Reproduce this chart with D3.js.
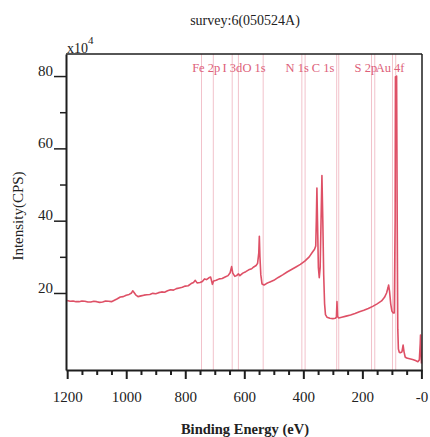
<!DOCTYPE html>
<html>
<head>
<meta charset="utf-8">
<script src="https://cdn.jsdelivr.net/npm/d3@7"></script>
<style>
  html, body { margin: 0; padding: 0; background: #fff; }
  svg { display: block; }
  text { font-family: "Liberation Serif", "Times New Roman", serif; }
</style>
</head>
<body>
<svg id="chart" width="430" height="437"></svg>
<script>
// XPS survey spectrum: binding energy (eV) and intensity (x10^4 CPS)
const bindingEnergy = [
  1200, 1190, 1180, 1170, 1160, 1150, 1140, 1130, 1120, 1110, 1100, 1090, 1080, 1070, 1060, 1050,
  1040, 1030, 1020, 1010, 1000, 990, 982, 978, 974, 968, 960, 950, 940, 930, 920, 910,
  900, 890, 880, 870, 860, 850, 840, 830, 820, 810, 800, 790, 780, 772, 766, 760,
  750, 742, 735, 728, 720, 714, 708, 704, 695, 685, 675, 665, 655, 648, 643, 639,
  632, 626, 620, 615, 605, 595, 585, 575, 568, 560, 555, 551, 549, 547, 544, 540,
  533, 525, 515, 500, 485, 470, 455, 440, 425, 410, 395, 380, 370, 362, 358, 356,
  354, 352, 349, 346, 343, 340, 337, 334, 331, 328, 325, 320, 310, 300, 292, 288,
  286, 284, 280, 270, 255, 240, 225, 210, 195, 180, 165, 150, 135, 125, 118, 113,
  111, 108, 104, 100, 96, 92, 89, 88, 86, 85, 84, 82, 80, 78, 75, 72,
  66, 62, 59, 55, 50, 40, 30, 20, 12, 7, 4, 3, 1.5, 0
];
const intensity = [
  17.9, 17.7, 17.8, 17.6, 17.6, 17.8, 17.7, 17.5, 17.5, 17.7, 17.6, 17.4, 17.5, 17.8, 17.7, 17.6,
  18.0, 18.4, 18.9, 19.0, 19.4, 19.6, 20.0, 20.6, 20.2, 19.5, 19.0, 19.2, 19.4, 19.5, 19.6, 19.9,
  19.8, 20.1, 20.3, 20.2, 20.6, 20.9, 20.8, 21.2, 21.4, 21.6, 21.9, 22.0, 22.6, 22.9, 23.5, 22.8,
  22.9, 23.2, 23.9, 23.7, 24.2, 24.4, 22.4, 23.3, 23.5, 23.9, 24.0, 24.4, 24.8, 25.6, 27.3, 25.5,
  24.6, 24.8, 25.3, 24.8, 25.5, 25.9, 26.4, 26.7, 27.2, 27.6, 28.2, 31.0, 35.7, 30.0, 25.0, 22.5,
  22.2, 22.6, 23.0, 23.5, 24.3, 25.0, 25.8, 26.5, 27.2, 27.9, 28.8, 30.0, 31.2, 32.1, 33.0, 40.0,
  49.0, 40.0, 27.0, 24.2, 27.0, 40.0, 52.5, 40.0, 25.0, 17.0, 14.0, 13.3, 13.0, 12.9, 13.0, 13.3,
  17.6, 13.5, 13.1, 13.3, 13.6, 13.9, 14.3, 14.8, 15.2, 15.7, 16.3, 17.0, 17.8, 18.8, 20.0, 21.5,
  22.2, 20.5, 17.0, 15.0, 14.5, 14.5, 40.0, 79.8, 75.0, 60.0, 80.0, 40.0, 10.0, 4.5, 3.6, 3.5,
  3.7, 5.6, 3.8, 2.3, 2.0, 1.8, 1.6, 1.3, 1.0, 1.5, 6.0, 8.4, 4.0, 0.5
];

// Peak markers: element label, reference line energies (eV) and label anchor (eV)
const peakNames = ["Fe 2p", "I 3d", "O 1s", "N 1s", "C 1s", "S 2p", "Au 4f"];
const peakLines = [[745, 705], [641, 620], [536], [405, 394], [287, 280], [169, 158], [98, 87]];
const peakLabelAt = [729, 640, 567, 421, 333, 188, 106];

// Axis ticks
const xTickValues = [1200, 1000, 800, 600, 400, 200, 0];
const xTickLabels = ["1200", "1000", "800", "600", "400", "200", "-0"];
const xMinorTicks = [1150, 1100, 1050, 950, 900, 850, 750, 700, 650, 550, 500, 450, 350, 300, 250, 150, 100, 50];
const yTickValues = [20, 40, 60, 80];
const yTickLabels = ["20", "40", "60", "80"];
const yMinorTicks = [30, 50, 70];

const svg = d3.select("#chart");
const plotLeft = 66, plotRight = 422, plotTop = 54, plotBottom = 370;

const x = d3.scaleLinear().domain([1204, -2]).range([plotLeft, plotRight]);
const y = d3.scaleLinear().domain([-1.3, 86.1]).range([plotBottom, plotTop]);

const lineColor = "#de5066";
const markerColor = "#f2c2cb";
const labelColor = "#dd6079";
const axisColor = "#1e1e1e";

// Reference lines for each element
const markers = [];
peakLines.forEach(arr => arr.forEach(e => markers.push(e)));
svg.append("g").selectAll("line").data(markers).join("line")
  .attr("x1", d => x(d)).attr("x2", d => x(d))
  .attr("y1", plotTop).attr("y2", plotBottom)
  .attr("stroke", markerColor).attr("stroke-width", 1);

// Spectrum
const pts = bindingEnergy.map((e, i) => [e, intensity[i]]);
svg.append("path")
  .datum(pts)
  .attr("fill", "none")
  .attr("stroke", lineColor)
  .attr("stroke-width", 1.6)
  .attr("stroke-linejoin", "round")
  .attr("d", d3.line().x(d => x(d[0])).y(d => y(d[1])));

// Element labels
svg.append("g").selectAll("text").data(peakNames).join("text")
  .attr("x", (d, i) => x(peakLabelAt[i]))
  .attr("y", 72)
  .attr("text-anchor", "middle")
  .attr("font-size", 12.5)
  .attr("fill", labelColor)
  .text(d => d);

// Frame (top and right)
svg.append("line").attr("x1", plotLeft).attr("x2", plotRight).attr("y1", plotTop).attr("y2", plotTop)
  .attr("stroke", axisColor).attr("stroke-width", 1.5);
svg.append("line").attr("x1", plotRight).attr("x2", plotRight).attr("y1", plotTop).attr("y2", plotBottom)
  .attr("stroke", axisColor).attr("stroke-width", 1.5);

// Bottom axis
const xAxis = d3.axisBottom(x).tickValues(xTickValues)
  .tickFormat((d, i) => xTickLabels[i]).tickSize(9).tickSizeOuter(0);
const gx = svg.append("g").attr("transform", `translate(0,${plotBottom})`).call(xAxis);
gx.select(".domain").attr("stroke", axisColor).attr("stroke-width", 2);
gx.selectAll(".tick line").attr("stroke", axisColor).attr("stroke-width", 2);
gx.selectAll(".tick text").attr("font-size", 15).attr("fill", "#222")
  .attr("font-family", "Liberation Serif, serif").attr("dy", "1.3em");
const xMinor = d3.axisBottom(x).tickValues(xMinorTicks).tickFormat("").tickSize(5).tickSizeOuter(0);
const gxm = svg.append("g").attr("transform", `translate(0,${plotBottom})`).call(xMinor);
gxm.select(".domain").remove();
gxm.selectAll(".tick line").attr("stroke", axisColor).attr("stroke-width", 2);

// Left axis
const yAxis = d3.axisLeft(y).tickValues(yTickValues)
  .tickFormat((d, i) => yTickLabels[i]).tickSize(12).tickSizeOuter(0);
const gy = svg.append("g").attr("transform", `translate(${plotLeft},0)`).call(yAxis);
gy.select(".domain").attr("stroke", axisColor).attr("stroke-width", 2);
gy.selectAll(".tick line").attr("stroke", axisColor).attr("stroke-width", 1.5);
gy.selectAll(".tick text").attr("font-size", 15).attr("fill", "#222")
  .attr("font-family", "Liberation Serif, serif")
  .attr("x", -13).attr("dy", "-0.05em");
const yMinor = d3.axisLeft(y).tickValues(yMinorTicks).tickFormat("").tickSize(6).tickSizeOuter(0);
const gym = svg.append("g").attr("transform", `translate(${plotLeft},0)`).call(yMinor);
gym.select(".domain").remove();
gym.selectAll(".tick line").attr("stroke", axisColor).attr("stroke-width", 1.5);

// Scale factor note
const sf = svg.append("text").attr("x", 67).attr("y", 53).attr("font-size", 14).attr("fill", "#222");
sf.append("tspan").text("x10");
sf.append("tspan").attr("font-size", 11).attr("dy", -9).text("4");

// Title and axis titles
svg.append("text").attr("x", 245).attr("y", 25).attr("text-anchor", "middle")
  .attr("font-size", 14).attr("fill", "#222").text("survey:6(050524A)");
svg.append("text").attr("x", 245).attr("y", 434).attr("text-anchor", "middle")
  .attr("font-size", 14.5).attr("font-weight", "bold").attr("fill", "#222")
  .text("Binding Energy (eV)");
svg.append("text").attr("transform", "translate(23,216) rotate(-90)")
  .attr("text-anchor", "middle").attr("font-size", 15).attr("fill", "#222")
  .text("Intensity(CPS)");
</script>
</body>
</html>
